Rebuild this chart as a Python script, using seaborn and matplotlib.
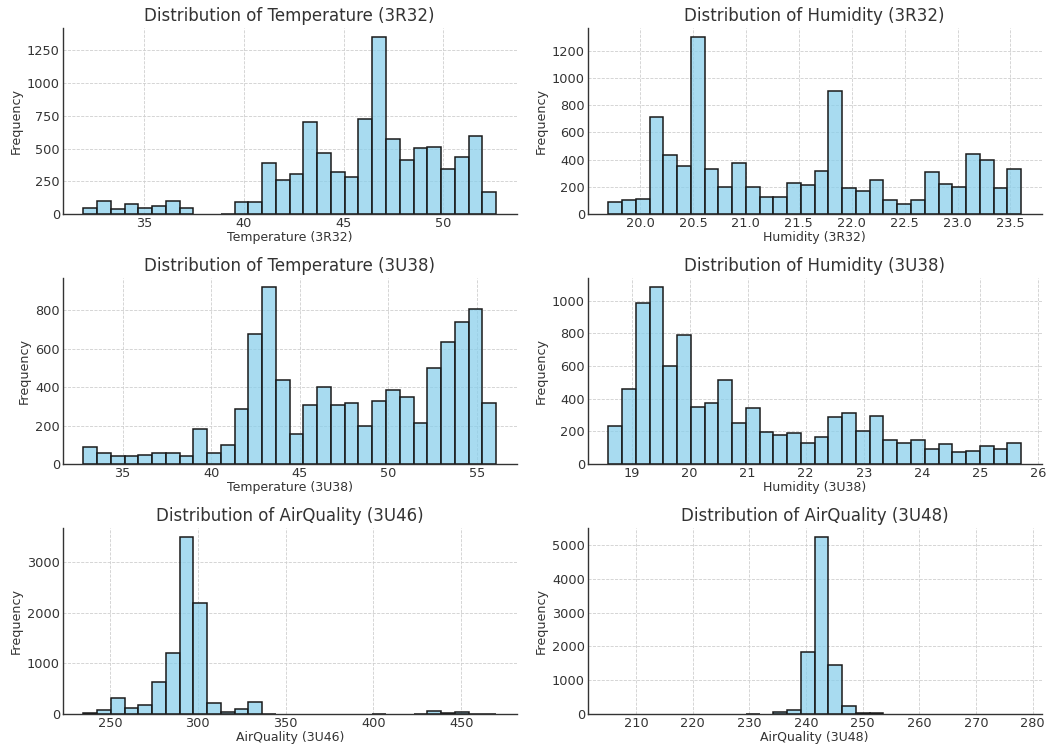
import numpy as np
import pandas as pd
import matplotlib
matplotlib.use("Agg")
import matplotlib.pyplot as plt
import seaborn as sns

# ---- data (30 bins each) ----
temp_3r32_range = (31.95, 52.65)
temp_3r32_counts = [48, 99, 41, 74, 46, 59, 97, 48, 0, 0, 3, 92, 94, 392, 262,
                    303, 705, 463, 321, 285, 728, 1354, 575, 415, 506, 509, 344, 433, 598, 170]

hum_3r32_range = (19.70, 23.60)
hum_3r32_counts = [88, 100, 113, 715, 431, 355, 1304, 331, 196, 372, 200, 125, 127, 230, 211,
                   314, 902, 189, 172, 250, 105, 71, 100, 309, 218, 199, 439, 395, 194, 328]

temp_3u38_range = (32.78, 56.07)
temp_3u38_counts = [88, 57, 43, 40, 45, 57, 55, 40, 182, 57, 99, 288, 678, 921, 435,
                    156, 305, 399, 309, 316, 196, 326, 387, 350, 215, 500, 636, 739, 808, 319]

hum_3u38_range = (18.60, 25.71)
hum_3u38_counts = [235, 461, 988, 1084, 602, 788, 349, 373, 516, 249, 343, 194, 178, 188, 127,
                   167, 288, 314, 200, 294, 149, 127, 147, 90, 122, 73, 78, 112, 90, 127]

aq_3u46_range = (234.8, 469.9)
aq_3u46_counts = [10, 79, 310, 112, 185, 633, 1200, 3507, 2188, 218, 46, 92, 231, 5, 0,
                  0, 0, 0, 0, 0, 0, 3, 0, 0, 8, 66, 20, 46, 4, 3]

aq_3u48_range = (205.13, 277.94)
aq_3u48_counts = [0, 0, 0, 0, 0, 0, 0, 0, 0, 0, 8, 0, 69, 118, 1844,
                  5247, 1450, 227, 40, 15, 0, 0, 0, 0, 0, 0, 0, 0, 0, 0]

panels = [
    ("Temperature (3R32)", temp_3r32_range, temp_3r32_counts, [0, 250, 500, 750, 1000, 1250]),
    ("Humidity (3R32)", hum_3r32_range, hum_3r32_counts, [0, 200, 400, 600, 800, 1000, 1200]),
    ("Temperature (3U38)", temp_3u38_range, temp_3u38_counts, [0, 200, 400, 600, 800]),
    ("Humidity (3U38)", hum_3u38_range, hum_3u38_counts, [0, 200, 400, 600, 800, 1000]),
    ("AirQuality (3U46)", aq_3u46_range, aq_3u46_counts, [0, 1000, 2000, 3000]),
    ("AirQuality (3U48)", aq_3u48_range, aq_3u48_counts, [0, 1000, 2000, 3000, 4000, 5000]),
]

sns.set_style("whitegrid", {"grid.linestyle": "--", "grid.color": "#d0d0d0",
                            "axes.edgecolor": "#333333", "text.color": "#333333",
                            "axes.labelcolor": "#333333", "xtick.color": "#333333",
                            "ytick.color": "#333333"})
plt.rcParams['font.family'] = ['DejaVu Sans']

W, H = 1055, 751
fig = plt.figure(figsize=(W / 100, H / 100), dpi=100)

lefts = [62.7, 587.7]
bottoms = [214, 464, 714]
aw, ah = 454, 186

for i, (name, rng, counts, yticks) in enumerate(panels):
    r, c = divmod(i, 2)
    ax = fig.add_axes([lefts[c] / W, (H - bottoms[r]) / H, aw / W, ah / H])
    edges = np.linspace(rng[0], rng[1], len(counts) + 1)
    df = pd.DataFrame({"center": (edges[:-1] + edges[1:]) / 2, "count": counts})
    sns.histplot(data=df, x="center", weights="count", bins=edges.tolist(), color="skyblue",
                 edgecolor="#1a1a1a", alpha=0.72, linewidth=1.1, ax=ax)
    for p in ax.patches:
        if p.get_height() == 0:
            p.set_visible(False)
    ax.set_xlim(rng[0] - 0.05 * (rng[1] - rng[0]), rng[1] + 0.05 * (rng[1] - rng[0]))
    ax.set_title(f"Distribution of {name}", fontsize=12, color="#333333", pad=5)
    ax.set_xlabel(name, fontsize=9, labelpad=1)
    ax.set_ylabel("Frequency", fontsize=9.2, labelpad=3)
    ax.set_yticks(yticks)
    ax.tick_params(labelsize=9.3, pad=2, length=0)
    ax.grid(True, linestyle="--", linewidth=0.6, color="#cfcfcf")
    sns.despine(ax=ax)
    for s in ("left", "bottom"):
        ax.spines[s].set_linewidth(1.0)

fig.savefig("out.png", dpi=100)
